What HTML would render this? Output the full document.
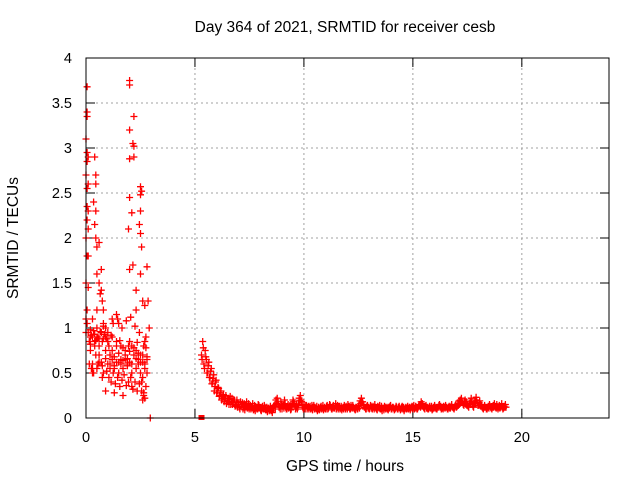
<!DOCTYPE html>
<html><head><meta charset="utf-8"><style>
body{margin:0;background:#fff}
svg text{font-family:"Liberation Sans",sans-serif;font-size:15px;fill:#000}
svg text.tk{font-size:14.5px}
</style></head><body>
<svg id="chart" width="640" height="480" xmlns="http://www.w3.org/2000/svg">
<rect width="640" height="480" fill="#fff"/>
<text x="345" y="32" text-anchor="middle" style="font-size:15.5px">Day 364 of 2021, SRMTID for receiver cesb</text>
<text x="345" y="471" text-anchor="middle" style="font-size:15.5px">GPS time / hours</text>
<text transform="translate(18,238) rotate(-90)" text-anchor="middle" style="font-size:15.5px">SRMTID / TECUs</text>
<g id="grid"></g>
<g id="ticks"></g>
<g id="pts"></g>
<rect x="86" y="58" width="523" height="360" fill="none" stroke="#000" stroke-width="1"/>
</svg>
<script>
const xTicks=[0,5,10,15,20];
const yTicks=[0,0.5,1,1.5,2,2.5,3,3.5,4];
const yTickLabels=["0","0.5","1","1.5","2","2.5","3","3.5","4"];
const earlyX=[0.05,0.05,0.05,0,0.05,0.1,0.05,0,0.1,0.05,0.05,0.1,0.05,0.1,0,0.05,0.1,0,0.1,0.05,0,0.05,0,
0.4,0.45,0.45,0.35,0.45,0.4,0.45,0.5,0.6,0.7,0.5,0.6,0.7,0.75,0.65,0.5,0.3,0.8,0.9,
2.0,2.0,2.2,2.0,2.15,2.2,2.2,2.0,2.5,2.55,2.5,2.0,2.5,2.1,2.45,2.5,2.55,1.95,2.8,2.5,2.15,2.0,2.3,2.6,2.85,2.7,2.3,1.4,1.5,1.2,2.9,2.95,
0.1,0.2,0.3,0.4,0.5,0.6,0.7,0.8,0.9,1.0,0.15,0.25,0.35,0.45,0.55,0.65,0.75,0.85,0.95,1.05,
0.2,0.3,0.4,0.5,0.6,0.7,0.8,0.9,1.0,1.1,1.2,1.3,1.4,1.5,1.6,1.7,1.8,1.9,2.0,2.1,2.2,2.3,2.4,2.5,2.6,2.7,2.8,
1.1,1.2,1.3,1.4,1.5,1.6,1.7,1.8,1.9,2.0,2.1,2.2,2.3,2.4,2.5,2.6,2.7,2.8,
1.05,1.15,1.25,1.35,1.45,1.55,1.65,1.75,1.85,1.95,2.05,2.15,2.25,2.35,2.45,2.55,2.65,2.75,
0.25,0.35,0.55,0.75,0.95,1.25,1.45,1.65,1.85,2.05,2.25,2.45,2.6,2.65,2.7,2.75,2.7,2.65,
0.2,0.4,0.6,0.8,1.0,1.2,1.4,1.6,1.8,2.0,2.2,2.4,2.6,2.8,0.3,0.9,1.3,1.7,2.1,2.55,
0.15,0.3,0.45,0.6,0.75,0.9,1.1,1.3,1.5,1.7,1.9,2.1,2.3,2.5,2.7,0.2,0.5,0.8,1.15,1.55,1.95,2.35,2.75];
const earlyY=[3.68,3.4,3.35,3.1,2.95,2.9,2.85,2.7,2.6,2.55,2.35,2.3,2.2,2.1,2.0,1.8,1.8,1.5,1.45,1.2,1.1,1.05,0.95,
2.9,2.6,2.7,2.4,2.3,2.15,2.0,1.9,1.95,1.65,1.6,1.5,1.42,1.3,1.38,1.2,1.1,1.2,1.0,
3.75,3.7,3.35,3.2,3.05,3.02,2.9,2.88,2.57,2.52,2.48,2.45,2.3,2.28,2.15,2.05,1.9,2.1,1.68,1.6,1.7,1.65,1.42,1.3,1.3,1.25,1.2,1.15,1.05,1.1,1.0,0,
0.95,0.98,0.9,0.93,1.0,0.88,0.95,1.02,0.9,0.85,0.85,0.92,0.97,0.86,0.9,0.96,0.85,0.93,0.88,0.8,
0.75,0.6,0.8,0.55,0.7,0.62,0.5,0.75,0.6,0.55,0.65,0.58,0.62,0.5,0.6,0.55,0.65,0.6,0.62,0.5,0.7,0.55,0.6,0.5,0.45,0.55,0.5,
0.7,0.75,0.68,0.8,0.72,0.65,0.78,0.7,0.66,0.74,0.8,0.7,0.75,0.65,0.7,0.62,0.6,0.68,
0.45,0.4,0.5,0.38,0.45,0.35,0.42,0.48,0.36,0.4,0.45,0.32,0.4,0.3,0.38,0.3,0.28,0.35,
0.55,0.5,0.6,0.45,0.52,1.05,1.1,1.0,1.08,1.12,1.02,0.95,0.2,0.25,0.22,0.9,0.85,0.8,
0.9,0.85,0.8,1.05,0.95,0.9,0.85,0.8,0.75,0.85,0.78,0.72,0.7,0.65,0.5,0.3,0.28,0.25,0.35,0.4,
0.6,0.55,0.7,0.62,0.58,0.66,0.6,0.55,0.62,0.64,0.58,0.6,0.66,0.62,0.6,0.82,0.9,0.88,0.92,0.86,0.8,0.84,0.78];
const baseX0=5.3, baseStep=0.056;
const baseA=[0.7,0.85,0.6,0.75,0.65,0.5,0.62,0.45,0.55,0.4,0.48,0.35,0.42,0.3,0.33,0.25,0.3,0.22,0.26,0.2,
0.25,0.18,0.22,0.2,0.15,0.22,0.18,0.2,0.14,0.2,0.17,0.12,0.18,0.15,0.1,0.16,0.13,0.18,0.12,0.1,
0.14,0.12,0.16,0.1,0.08,0.12,0.1,0.14,0.11,0.08,0.13,0.1,0.12,0.09,0.07,0.11,0.1,0.08,0.06,0.1,
0.13,0.2,0.22,0.15,0.12,0.18,0.1,0.14,0.2,0.12,0.1,0.15,0.12,0.09,0.13,0.2,0.16,0.1,0.14,0.12,
0.22,0.25,0.18,0.12,0.15,0.1,0.14,0.12,0.1,0.13,0.11,0.09,0.14,0.12,0.1,0.08,0.12,0.1,0.13,0.11,
0.09,0.12,0.1,0.14,0.11,0.15,0.12,0.1,0.14,0.11,0.16,0.12,0.1,0.13,0.11,0.09,0.12,0.14,0.1,0.12,
0.15,0.13,0.1,0.12,0.14,0.11,0.09,0.12,0.1,0.14,0.19,0.22,0.18,0.15,0.12,0.1,0.14,0.12,0.11,0.13,
0.1,0.12,0.15,0.11,0.09,0.12,0.14,0.1,0.08,0.11,0.13,0.1,0.12,0.09,0.11,0.14,0.1,0.12,0.09,0.11,
0.12,0.1,0.13,0.09,0.12,0.1,0.08,0.11,0.1,0.13,0.11,0.09,0.12,0.1,0.14,0.11,0.12,0.1,0.13,0.15,
0.18,0.16,0.12,0.1,0.14,0.12,0.1,0.13,0.11,0.09,0.12,0.14,0.11,0.1,0.12,0.15,0.13,0.11,0.1,0.12,
0.14,0.12,0.1,0.13,0.11,0.15,0.12,0.1,0.14,0.12,0.16,0.19,0.2,0.22,0.17,0.14,0.2,0.18,0.15,0.12,
0.18,0.22,0.15,0.12,0.2,0.23,0.17,0.14,0.19,0.15,0.12,0.1,0.14,0.12,0.1,0.13,0.15,0.12,0.1,0.14,
0.16,0.12,0.15,0.1,0.14,0.12,0.16,0.1,0.13,0.15];
const baseB=[0.65,0.78,0.55,0.68,0.5,0.58,0.45,0.52,0.38,0.44,0.3,0.4,0.28,0.34,0.24,0.28,0.2,0.24,0.18,0.22,
0.16,0.2,0.15,0.24,0.18,0.15,0.2,0.13,0.17,0.12,0.15,0.1,0.13,0.17,0.12,0.09,0.14,0.11,0.16,0.12,
0.1,0.13,0.09,0.14,0.12,0.1,0.15,0.12,0.09,0.11,0.1,0.14,0.09,0.12,0.1,0.08,0.13,0.1,0.12,0.14,
0.1,0.16,0.18,0.12,0.1,0.15,0.13,0.11,0.16,0.1,0.13,0.11,0.14,0.1,0.16,0.18,0.13,0.12,0.1,0.15,
0.19,0.2,0.14,0.1,0.12,0.14,0.1,0.13,0.12,0.1,0.14,0.12,0.1,0.11,0.13,0.1,0.09,0.12,0.1,0.14,
0.11,0.1,0.13,0.1,0.12,0.14,0.1,0.12,0.11,0.13,0.1,0.14,0.12,0.1,0.13,0.11,0.1,0.12,0.13,0.1,
0.12,0.1,0.14,0.11,0.12,0.1,0.12,0.1,0.13,0.11,0.16,0.18,0.14,0.12,0.1,0.13,0.11,0.1,0.14,0.11,
0.13,0.1,0.12,0.1,0.13,0.11,0.1,0.13,0.11,0.09,0.12,0.11,0.1,0.12,0.13,0.1,0.12,0.11,0.1,0.13,
0.1,0.12,0.11,0.1,0.13,0.12,0.1,0.12,0.11,0.1,0.12,0.11,0.13,0.12,0.1,0.13,0.1,0.12,0.14,0.12,
0.15,0.13,0.11,0.13,0.11,0.1,0.12,0.11,0.13,0.1,0.11,0.12,0.1,0.12,0.14,0.12,0.1,0.12,0.13,0.11,
0.12,0.1,0.12,0.11,0.13,0.12,0.11,0.12,0.15,0.13,0.14,0.16,0.17,0.18,0.15,0.18,0.16,0.14,0.13,0.16,
0.15,0.18,0.13,0.16,0.17,0.19,0.14,0.17,0.15,0.13,0.11,0.12,0.12,0.1,0.12,0.11,0.13,0.11,0.12,0.12,
0.13,0.11,0.12,0.12,0.11,0.13,0.12,0.11,0.12,0.12];
const xs=h=>86+h*523/24, ys=v=>418-v*90;
const NS="http://www.w3.org/2000/svg";
const grid=document.getElementById('grid'), ticks=document.getElementById('ticks'), pts=document.getElementById('pts');
function ln(p,x1,y1,x2,y2,st,da){const l=document.createElementNS(NS,'line');l.setAttribute('x1',x1);l.setAttribute('y1',y1);l.setAttribute('x2',x2);l.setAttribute('y2',y2);l.setAttribute('stroke',st);if(da)l.setAttribute('stroke-dasharray',da);p.appendChild(l);return l;}
function tx(p,x,y,s,a){const t=document.createElementNS(NS,'text');t.setAttribute('x',x);t.setAttribute('y',y);t.setAttribute('text-anchor',a);t.setAttribute('class','tk');t.textContent=s;p.appendChild(t);return t;}
yTicks.forEach((v,i)=>{const y=ys(v);
 if(i>0&&i<yTicks.length-1){const g=ln(grid,86,y,609,y,'#a0a0a0','2,3');}
 ln(ticks,86,y,95,y,'#000');ln(ticks,600,y,609,y,'#000');
 const t=tx(ticks,72,y+5,yTickLabels[i],'end');
 
 });
xTicks.forEach(h=>{const x=xs(h);
 if(h>0){const g=ln(grid,x,58,x,418,'#a0a0a0','2,3');}
 ln(ticks,x,418,x,409,'#000');ln(ticks,x,58,x,67,'#000');
 const t=tx(ticks,x,442,String(h),'middle');
 
 });
let d='';
function plus(h,v){const x=xs(h),y=ys(v);d+=`M${(x-3.5).toFixed(1)} ${y.toFixed(1)}h7M${x.toFixed(1)} ${(y-3.5).toFixed(1)}v7`;}
earlyX.forEach((h,i)=>plus(h,earlyY[i]));
baseA.forEach((v,i)=>plus(baseX0+i*baseStep,v));
baseB.forEach((v,i)=>plus(baseX0+0.028+i*baseStep,v));
const p=document.createElementNS(NS,'path');p.setAttribute('d',d);p.setAttribute('stroke','#ff0000');p.setAttribute('stroke-width','1.3');p.setAttribute('fill','none');


pts.appendChild(p);
const sq=document.createElementNS(NS,'rect');sq.setAttribute('x',xs(5.3)-3);sq.setAttribute('y',415);sq.setAttribute('width',6);sq.setAttribute('height',5);sq.setAttribute('fill','#ff0000');


pts.appendChild(sq);
</script>
</body></html>
